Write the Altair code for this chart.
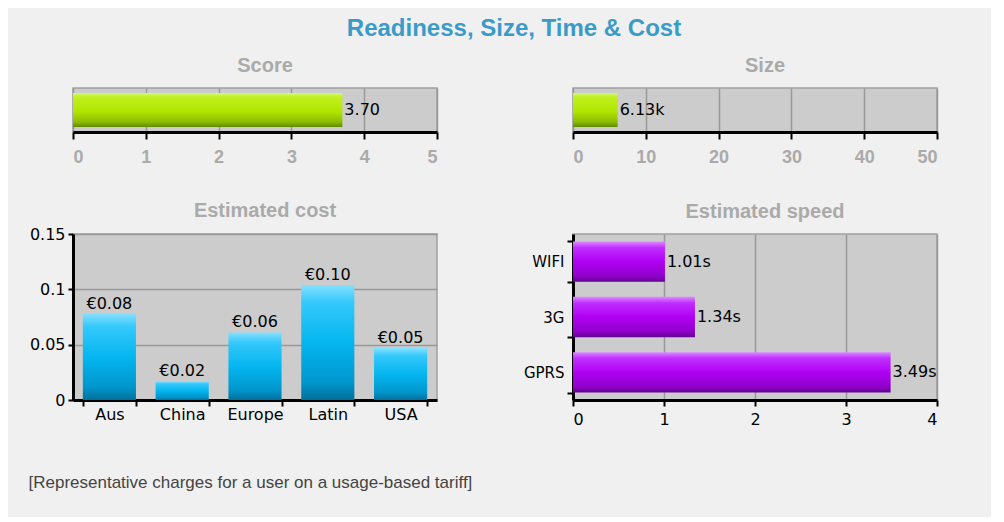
import altair as alt
import pandas as pd

# ---------------- data ----------------
score_cat = ["Score"]
score_values = [3.70]
score_labels = ["3.70"]
score_ticks = [0, 1, 2, 3, 4, 5]

size_cat = ["Size"]
size_values = [6.13]
size_labels = ["6.13k"]
size_ticks = [0, 10, 20, 30, 40, 50]

cost_regions = ["Aus", "China", "Europe", "Latin", "USA"]
cost_values = [0.078, 0.017, 0.061, 0.104, 0.047]
cost_labels = ["€0.08", "€0.02", "€0.06", "€0.10", "€0.05"]
cost_ticks = [0, 0.05, 0.1, 0.15]

speed_networks = ["WIFI", "3G", "GPRS"]
speed_values = [1.01, 1.34, 3.49]
speed_labels = ["1.01s", "1.34s", "3.49s"]
speed_ticks = [0, 1, 2, 3, 4]

main_title = "Readiness, Size, Time & Cost"
footnote = "[Representative charges for a user on a usage-based tariff]"

# ---------------- styles ----------------
SUB_COLOR = "#aaaaaa"
GRID = "#999999"


def vgrad(stops):
    return alt.Gradient(
        gradient="linear",
        stops=[alt.GradientStop(offset=o, color=c) for o, c in stops],
        x1=0, x2=0, y1=0, y2=1,
    )


green = vgrad([(0, "#d2f77a"), (0.12, "#c0f020"), (0.55, "#b0e600"), (0.85, "#8cbc00"), (1, "#5f8a00")])
blue = vgrad([(0, "#86e0ff"), (0.15, "#35c8fb"), (0.5, "#05b6f0"), (0.85, "#0096cc"), (1, "#00709c")])
purple = vgrad([(0, "#dc8cff"), (0.15, "#c030ff"), (0.5, "#b000f4"), (0.85, "#9000cc"), (1, "#640090")])


def sub_title(text, offset):
    return alt.TitleParams(text=text, color=SUB_COLOR, font="Liberation Sans", fontSize=20,
                           fontWeight="bold", dx=10, offset=offset, anchor="middle")


def gauge(cat, values, labels, ticks, title):
    df = pd.DataFrame({"cat": cat, "value": values, "label": labels})
    x = alt.X(
        "value:Q",
        scale=alt.Scale(domain=[ticks[0], ticks[-1]], nice=False),
        axis=alt.Axis(values=ticks, title=None, grid=True, gridColor=GRID, gridWidth=1.5,
                      domainColor="black", domainWidth=3, tickColor="black", tickWidth=2,
                      tickSize=7, labelFont="Liberation Sans", labelFontSize=18,
                      labelFontWeight="bold", labelColor=SUB_COLOR, labelPadding=9, format="d"),
    )
    y = alt.Y("cat:N", axis=None, scale=alt.Scale(paddingInner=0, paddingOuter=0.147))
    bars = alt.Chart(df).mark_bar(fill=green).encode(x=x, y=y)
    text = alt.Chart(df).mark_text(align="left", baseline="middle", dx=2, font="DejaVu Sans",
                                   fontSize=16, color="black").encode(
        x="value:Q", y="cat:N", text="label:N")
    return alt.layer(bars, text).properties(width=364, height=44, title=sub_title(title, 12))


score_chart = gauge(score_cat, score_values, score_labels, score_ticks, "Score")
size_chart = gauge(size_cat, size_values, size_labels, size_ticks, "Size")

# ---- cost ----
cost_df = pd.DataFrame({"region": cost_regions, "value": cost_values, "label": cost_labels})
cost_x = alt.X(
    "region:N", sort=cost_regions,
    scale=alt.Scale(paddingInner=0.27, paddingOuter=0.135),
    axis=alt.Axis(title=footnote, titleX=-45, titleY=82, titleAlign="left",
                  titleBaseline="middle", titleFont="Liberation Sans", titleFontSize=17,
                  titleFontWeight="normal", titleColor="#444444", labelAngle=0,
                  tickBand="extent", domainColor="black", domainWidth=3, tickColor="black",
                  tickWidth=2, tickSize=6, labelFont="DejaVu Sans", labelFontSize=16,
                  labelColor="black", grid=False, labelPadding=0),
)
cost_y = alt.Y(
    "value:Q", scale=alt.Scale(domain=[0, 0.15], nice=False),
    axis=alt.Axis(values=cost_ticks, format="~g", title=None, grid=True, gridColor=GRID,
                  gridWidth=1.5, domainColor="black", domainWidth=3, tickColor="black",
                  tickWidth=2, tickSize=5, labelFont="DejaVu Sans", labelFontSize=16,
                  labelColor="black", labelPadding=3),
)
cost_bars = alt.Chart(cost_df).mark_bar(fill=blue).encode(x=cost_x, y=cost_y)
cost_text = alt.Chart(cost_df).mark_text(align="center", baseline="bottom", dy=-2,
                                         font="DejaVu Sans", fontSize=16, color="black").encode(
    x=alt.X("region:N", sort=cost_regions), y="value:Q", text="label:N")
cost_chart = alt.layer(cost_bars, cost_text).properties(width=364, height=166,
                                                        title=sub_title("Estimated cost", 5))

# ---- speed ----
speed_df = pd.DataFrame({"net": speed_networks, "value": speed_values, "label": speed_labels})
speed_x = alt.X(
    "value:Q", scale=alt.Scale(domain=[0, 4], nice=False),
    axis=alt.Axis(values=speed_ticks, title=None, grid=True, gridColor=GRID, gridWidth=1.5,
                  domainColor="black", domainWidth=3, tickColor="black", tickWidth=2,
                  tickSize=6, labelFont="DejaVu Sans", labelFontSize=16, labelColor="black",
                  labelPadding=5, format="d"),
)
speed_y = alt.Y(
    "net:N", sort=speed_networks,
    scale=alt.Scale(paddingInner=0.27, paddingOuter=0.135),
    axis=alt.Axis(title=None, tickBand="extent", domainColor="black", domainWidth=3,
                  tickColor="black", tickWidth=2, tickSize=6, labelFont="DejaVu Sans",
                  labelFontSize=15, labelColor="black", grid=False, labelPadding=3),
)
speed_bars = alt.Chart(speed_df).mark_bar(fill=purple).encode(x=speed_x, y=speed_y)
speed_text = alt.Chart(speed_df).mark_text(align="left", baseline="middle", dx=2,
                                           font="DejaVu Sans", fontSize=16, color="black").encode(
    x="value:Q", y=alt.Y("net:N", sort=speed_networks), text="label:N")
speed_chart = alt.layer(speed_bars, speed_text).properties(width=364, height=166,
                                                           title=sub_title("Estimated speed", 5))

chart = alt.concat(
    score_chart, size_chart, cost_chart, speed_chart,
    columns=2,
    spacing={"row": 102, "column": 136},
    bounds="flush",
    title=alt.TitleParams(text=main_title, color="#3a9bc9", font="Liberation Sans",
                          fontSize=24, fontWeight="bold", anchor="middle", dx=31, offset=14),
).properties(
    background="#f0f0f0",
    padding={"left": 19, "top": 9, "right": 52, "bottom": 26},
).configure_view(
    fill="#cccccc", stroke="#a0a0a0", strokeWidth=1.5
)

chart.save("out.html", embed_options={"renderer": "svg", "actions": False})
